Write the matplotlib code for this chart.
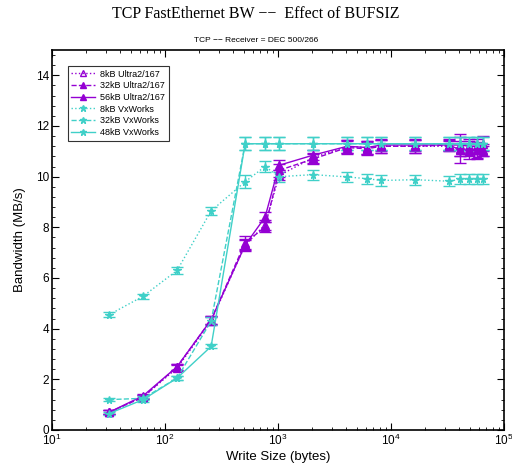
import matplotlib
matplotlib.use("Agg")
import matplotlib.pyplot as plt
import numpy as np
from matplotlib.lines import Line2D
from matplotlib.ticker import AutoMinorLocator, LogLocator, NullFormatter

# write sizes (bytes)
sizes = [32, 64, 128, 256, 512, 768, 1024, 2048, 4096, 6144, 8192,
         16384, 32768, 40960, 49152, 57344, 65536]

# Ultra2/167 curves
u8 = [0.70, 1.30, 2.45, 4.30, 7.30, 8.10, 10.05, 10.75, 11.20, 11.15, 11.20,
      11.20, 11.20, 11.10, 11.00, 10.95, 11.00]
u8_err = [0.08, 0.08, 0.12, 0.15, 0.20, 0.20, 0.20, 0.20, 0.25, 0.25, 0.25,
          0.25, 0.20, 0.30, 0.30, 0.25, 0.20]
u32 = [0.70, 1.30, 2.50, 4.35, 7.40, 8.00, 10.25, 10.70, 11.15, 11.10, 11.20,
       11.20, 11.25, 11.05, 11.10, 11.05, 11.05]
u32_err = [0.08, 0.08, 0.12, 0.15, 0.25, 0.20, 0.25, 0.20, 0.25, 0.25, 0.25,
           0.25, 0.20, 0.50, 0.30, 0.30, 0.25]
u56 = [0.70, 1.35, 2.50, 4.35, 7.30, 8.40, 10.45, 10.85, 11.20, 11.15, 11.25,
       11.25, 11.25, 11.25, 11.20, 11.20, 11.30]
u56_err = [0.08, 0.08, 0.12, 0.15, 0.25, 0.20, 0.20, 0.20, 0.25, 0.25, 0.25,
           0.25, 0.25, 0.45, 0.30, 0.30, 0.30]

# VxWorks curves
v8 = [4.55, 5.28, 6.30, 8.65, 9.80, 10.40, 10.00, 10.08, 9.99, 9.92, 9.85,
      9.88, 9.82, 9.90, 9.90, 9.90, 9.90]
v8_err = [0.10, 0.10, 0.15, 0.15, 0.25, 0.20, 0.20, 0.20, 0.20, 0.20, 0.20,
          0.20, 0.20, 0.20, 0.20, 0.20, 0.20]
v32 = [1.20, 1.25, 2.05, 4.30, 11.30, 11.30, 11.30, 11.30, 11.30, 11.30, 11.30,
       11.30, 11.30, 11.30, 11.30, 11.30, 11.30]
v32_err = [0.06, 0.08, 0.08, 0.15, 0.25, 0.25, 0.25, 0.25, 0.25, 0.25, 0.25,
           0.25, 0.25, 0.25, 0.25, 0.25, 0.25]
v48 = [0.65, 1.20, 2.05, 3.30, 11.30, 11.30, 11.30, 11.30, 11.30, 11.30, 11.30,
       11.30, 11.30, 11.30, 11.30, 11.30, 11.30]
v48_err = [0.06, 0.08, 0.08, 0.08, 0.25, 0.25, 0.25, 0.25, 0.25, 0.25, 0.25,
           0.25, 0.25, 0.25, 0.25, 0.25, 0.25]

purple = "#9400d3"
cyan = "#40d0c8"
sans = "Liberation Sans"

fig = plt.figure(figsize=(5.12, 4.68), dpi=100)
ax = fig.add_axes([52 / 512, 1 - 430 / 468, 452 / 512, 380 / 468])

series = [
    (u8, u8_err, purple, ":", "^", "none", "8kB Ultra2/167"),
    (u32, u32_err, purple, "--", "^", purple, "32kB Ultra2/167"),
    (u56, u56_err, purple, "-", "^", purple, "56kB Ultra2/167"),
    (v8, v8_err, cyan, ":", "*", cyan, "8kB VxWorks"),
    (v32, v32_err, cyan, "--", "*", cyan, "32kB VxWorks"),
    (v48, v48_err, cyan, "-", "*", cyan, "48kB VxWorks"),
]
handles = []
for y, e, c, ls, mk, mfc, lab in series:
    ax.errorbar(sizes, y, yerr=e, color=c, linestyle=ls, linewidth=1.0,
                marker=mk, markersize=5.5, markerfacecolor=mfc, markeredgecolor=c,
                capsize=4, elinewidth=1.0, capthick=1.0)
    handles.append(Line2D([], [], color=c, linestyle=ls, linewidth=1.0,
                          marker=mk, markersize=5, markerfacecolor=mfc,
                          markeredgecolor=c, label=lab))

ax.set_xscale("log")
ax.set_xlim(10, 1e5)
ax.set_ylim(0, 15)
ax.set_yticks([0, 2, 4, 6, 8, 10, 12, 14])
ax.yaxis.set_minor_locator(AutoMinorLocator(5))
ax.xaxis.set_minor_locator(LogLocator(base=10, subs=np.arange(2, 10)))
ax.xaxis.set_minor_formatter(NullFormatter())
ax.tick_params(which="both", direction="in", top=True, right=True, labelsize=8.5, pad=2)
ax.tick_params(which="major", length=5)
ax.tick_params(which="minor", length=2.5)
for s in ax.spines.values():
    s.set_linewidth(1.2)

ax.set_xlabel("Write Size (bytes)", fontsize=9.5, family=sans, labelpad=2)
ax.set_ylabel("Bandwidth (MB/s)", fontsize=9.5, family=sans, labelpad=7)
for lbl in ax.get_xticklabels() + ax.get_yticklabels():
    lbl.set_family(sans)

fig.text(0.5, 1 - 14 / 468, "TCP FastEthernet BW \u2212\u2212  Effect of BUFSIZ",
         ha="center", va="center", fontsize=11.5, family="Liberation Serif")
fig.text(0.5, 1 - 40 / 468, "TCP \u2212\u2212 Receiver = DEC 500/266",
         ha="center", va="center", fontsize=6, family=sans)

leg = ax.legend(handles=handles, loc="upper left", bbox_to_anchor=(0.025, 0.97),
                frameon=True, fancybox=False, edgecolor="black",
                handlelength=2.6, handletextpad=0.6, borderpad=0.4,
                labelspacing=0.3, prop={"family": sans, "size": 6.5})
leg.get_frame().set_linewidth(0.8)

fig.savefig("out.png", dpi=100)
